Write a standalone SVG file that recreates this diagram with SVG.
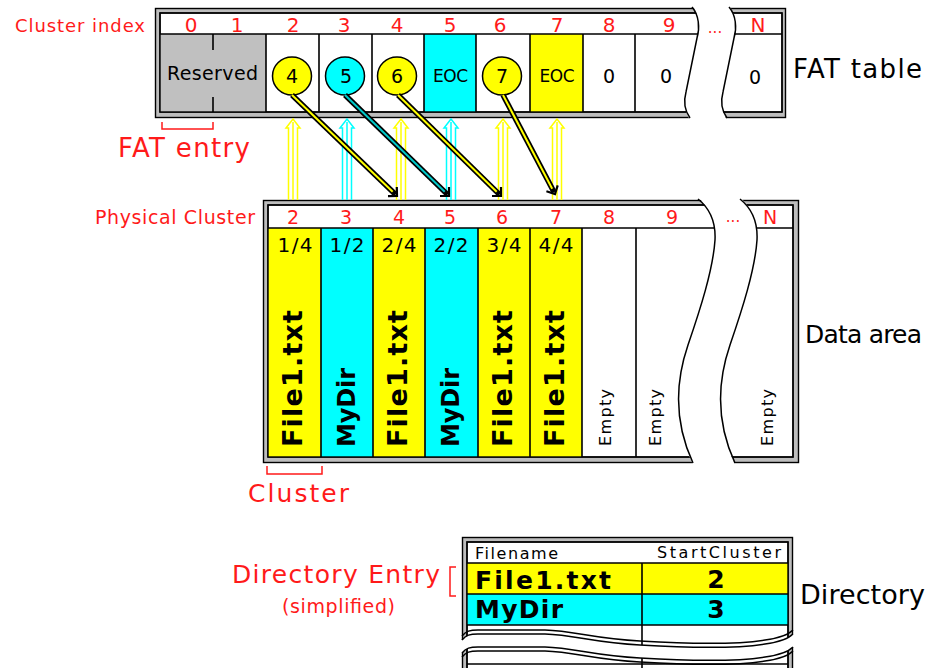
<svg xmlns="http://www.w3.org/2000/svg" width="933" height="668" viewBox="0 0 933 668">
  <style>
    text { font-family: "DejaVu Sans", "Liberation Sans", sans-serif; fill: #000; }
    text.red, .red text { fill: #ff1a1a; }
    .b { font-weight: bold; }
    .mid, .mid text { text-anchor: middle; }
    .frame-o { fill: #bdbdbd; stroke: #000; stroke-width: 1.4; }
    .frame-i { fill: #fff; stroke: #000; stroke-width: 1.4; }
    .edge { fill: none; stroke: #000; stroke-width: 1.4; }
    .ln { fill: none; stroke: #000; stroke-width: 1.6; }
    .brk { fill: none; stroke: #000; stroke-width: 1.5; }
    .gap { fill: #fff; stroke: none; }
    .y { fill: #ffff00; }
    .c { fill: #00ffff; }
    .bub { stroke: #000; stroke-width: 1.5; }
    .upY { fill: none; stroke: #ffff00; stroke-width: 1.5; }
    .upC { fill: none; stroke: #00ffff; stroke-width: 1.5; }
    .ptr { fill: none; stroke: #000; stroke-width: 5.5; }
    .coreY { fill: none; stroke: #ffff00; stroke-width: 2; }
    .coreC { fill: none; stroke: #00c8c8; stroke-width: 2; }
    .head { fill: none; stroke: #000; stroke-width: 2.2; stroke-linejoin: miter; }
    .brace { fill: none; stroke: #ff1a1a; stroke-width: 1.5; }
  </style>
  <defs>
    <!-- hollow upward arrow with a centre stroke -->
    <path id="uparrow" d="M-4.5,81 V9 H-7 L0,0 L7,9 H4.5 V81 M0,3 V81"/>
    <!-- torn edge of the FAT strip -->
    <path id="tearFat" d="M692,7 C699,15 700,28 697,38 L686,92 C683,103 685,111 690,118"/>
    <!-- torn edge of the data strip -->
    <path id="tearData" d="M698,199 C708,207 716,220 715,240 C713,270 700,310 688,345 C676,380 673,420 693,463"/>
    <!-- torn edge of the directory listing -->
    <path id="tearDir" d="M462,640 C466,635 470,634 478,634 L545,634 C575,635 595,643 640,645 C690,648 740,648 765,644 C780,642 788,639 793,634"/>
  </defs>

  <rect width="933" height="668" fill="#fff"/>

  <!-- FAT table -->
  <g id="fat-table">
    <rect class="frame-o" x="155.5" y="8.5" width="630" height="109"/>
    <rect class="frame-i" x="160" y="13" width="622" height="99"/>
    <rect fill="#c0c0c0" x="160" y="34" width="106" height="78"/>
    <rect class="c" x="424" y="34" width="52" height="78"/>
    <rect class="y" x="530" y="34" width="53" height="78"/>
    <path class="ln" d="M160,34 H782 M266,34 V112 M319,34 V112 M372,34 V112 M424,34 V112 M476,34 V112 M530,34 V112 M583,34 V112 M635,34 V112 M213,34 V50 M213,97 V112"/>
    <rect class="edge" x="160" y="13" width="622" height="99"/>
    <path class="gap" d="M692,5 C699,15 700,28 697,38 L686,92 C683,103 685,111 690,120 L727,120 C722,111 720,103 723,92 L734,38 C737,28 736,15 729,5 Z"/>
    <use href="#tearFat" class="brk"/>
    <use href="#tearFat" class="brk" transform="translate(37,0)"/>

    <g class="red mid" font-size="20">
      <text x="191" y="32">0</text>
      <text x="237" y="32">1</text>
      <text x="293" y="32">2</text>
      <text x="344" y="32">3</text>
      <text x="397" y="32">4</text>
      <text x="450" y="32">5</text>
      <text x="500" y="32">6</text>
      <text x="557" y="32">7</text>
      <text x="609" y="32">8</text>
      <text x="669" y="32">9</text>
      <text x="758" y="32">N</text>
    </g>
    <text class="red mid" x="715" y="33" font-size="15">...</text>

    <text x="167" y="80" font-size="19" textLength="91">Reserved</text>
    <ellipse class="y bub" cx="292" cy="76" rx="19.5" ry="19"/>
    <ellipse class="c bub" cx="345" cy="76" rx="19.5" ry="19"/>
    <ellipse class="y bub" cx="397" cy="76" rx="19.5" ry="19"/>
    <ellipse class="y bub" cx="502" cy="76" rx="19.5" ry="19"/>
    <g class="mid" font-size="19">
      <text x="292" y="83">4</text>
      <text x="346" y="83">5</text>
      <text x="397" y="83">6</text>
      <text x="502" y="83">7</text>
      <text x="609" y="83">0</text>
      <text x="666" y="83">0</text>
      <text x="755" y="84">0</text>
    </g>
    <text class="mid" x="450.5" y="82" font-size="17" textLength="35">EOC</text>
    <text class="mid" x="557" y="82" font-size="17" textLength="35">EOC</text>
  </g>

  <!-- Data area -->
  <g id="data-area">
    <rect class="frame-o" x="263.5" y="200.5" width="535" height="262"/>
    <rect class="frame-i" x="268" y="205" width="525" height="252"/>
    <rect class="y" x="268" y="228" width="53" height="229"/>
    <rect class="c" x="321" y="228" width="52" height="229"/>
    <rect class="y" x="373" y="228" width="52" height="229"/>
    <rect class="c" x="425" y="228" width="53" height="229"/>
    <rect class="y" x="478" y="228" width="52" height="229"/>
    <rect class="y" x="530" y="228" width="52" height="229"/>
    <path class="ln" d="M268,228 H793 M321,228 V457 M373,228 V457 M425,228 V457 M478,228 V457 M530,228 V457 M582,228 V457 M636,228 V457"/>
    <rect class="edge" x="268" y="205" width="525" height="252"/>
    <path class="gap" d="M698,197 C708,207 716,220 715,240 C713,270 700,310 688,345 C676,380 673,420 693,465 L735,465 C715,420 718,380 730,345 C742,310 755,270 757,240 C758,220 750,207 740,197 Z"/>
    <use href="#tearData" class="brk"/>
    <use href="#tearData" class="brk" transform="translate(42,0)"/>

    <g class="red mid" font-size="19">
      <text x="293" y="224">2</text>
      <text x="346" y="224">3</text>
      <text x="399" y="224">4</text>
      <text x="450" y="224">5</text>
      <text x="502" y="224">6</text>
      <text x="556" y="224">7</text>
      <text x="609" y="224">8</text>
      <text x="672" y="224">9</text>
      <text x="770" y="224">N</text>
    </g>
    <text class="red mid" x="733" y="222" font-size="15">...</text>

    <g class="mid" font-size="20">
      <text x="295" y="252" textLength="35">1/4</text>
      <text x="347" y="252" textLength="35">1/2</text>
      <text x="399" y="252" textLength="35">2/4</text>
      <text x="451" y="252" textLength="35">2/2</text>
      <text x="504" y="252" textLength="35">3/4</text>
      <text x="556" y="252" textLength="35">4/4</text>
    </g>

    <g class="b" font-size="27">
      <text transform="translate(302,447) rotate(-90)" textLength="137">File1.txt</text>
      <text transform="translate(407,447) rotate(-90)" textLength="137">File1.txt</text>
      <text transform="translate(512,447) rotate(-90)" textLength="137">File1.txt</text>
      <text transform="translate(564,447) rotate(-90)" textLength="137">File1.txt</text>
    </g>
    <g class="b" font-size="24">
      <text transform="translate(355,447) rotate(-90)" textLength="79">MyDir</text>
      <text transform="translate(459,447) rotate(-90)" textLength="79">MyDir</text>
    </g>
    <g font-size="16">
      <text transform="translate(611,446) rotate(-90)" textLength="57">Empty</text>
      <text transform="translate(661,446) rotate(-90)" textLength="57">Empty</text>
      <text transform="translate(773,446) rotate(-90)" textLength="57">Empty</text>
    </g>
  </g>

  <!-- Directory -->
  <g id="directory">
    <rect class="frame-o" x="462.5" y="537.5" width="330" height="150"/>
    <rect class="frame-i" x="467" y="542" width="321" height="140"/>
    <rect class="y" x="467" y="563" width="321" height="31"/>
    <rect class="c" x="467" y="594" width="321" height="31"/>
    <path class="ln" d="M467,563 H788 M467,594 H788 M467,625 H788 M642,563 V682 M467,664 H788"/>
    <rect class="edge" x="467" y="542" width="321" height="140"/>
    <path class="gap" d="M462,640 C466,635 470,634 478,634 L545,634 C575,635 595,643 640,645 C690,648 740,648 765,644 C780,642 788,639 793,634 L797,634 L797,647 L793,647 C788,652 780,655 765,657 C740,661 690,661 640,658 C595,656 575,648 545,647 L478,647 C470,647 466,648 462,653 L458,653 L458,640 Z"/>
    <use href="#tearDir" class="brk"/>
    <use href="#tearDir" class="brk" transform="translate(0,-4)"/>
    <use href="#tearDir" class="brk" transform="translate(0,13)"/>
    <use href="#tearDir" class="brk" transform="translate(0,17)"/>

    <text x="475" y="559" font-size="16" textLength="83">Filename</text>
    <text x="781" y="558" font-size="16" text-anchor="end" textLength="124">StartCluster</text>
    <text class="b" x="475" y="589" font-size="25" textLength="136">File1.txt</text>
    <text class="b" x="475" y="618" font-size="25" textLength="88">MyDir</text>
    <text class="b mid" x="716" y="588" font-size="25">2</text>
    <text class="b mid" x="716" y="618" font-size="25">3</text>
  </g>

  <!-- Pointers between the FAT and the data clusters -->
  <g id="connectors">
    <use href="#uparrow" class="upY" x="293" y="119"/>
    <use href="#uparrow" class="upC" x="347" y="119"/>
    <use href="#uparrow" class="upY" x="401" y="119"/>
    <use href="#uparrow" class="upC" x="451" y="119"/>
    <use href="#uparrow" class="upY" x="503" y="119"/>
    <use href="#uparrow" class="upY" x="557" y="119"/>

    <path class="ptr" d="M292,95 L395.6,194.6"/>
    <path class="coreY" d="M292,95 L392.7,191.8"/>
    <path class="head" d="M396.8,187 L397,196 L388,196.2"/>

    <path class="ptr" d="M345,95 L447.6,194.6"/>
    <path class="coreC" d="M345,95 L444.7,191.8"/>
    <path class="head" d="M449,187 L449,196 L440,196"/>

    <path class="ptr" d="M398,95 L499.6,194.6"/>
    <path class="coreY" d="M398,95 L496.7,191.8"/>
    <path class="head" d="M501,187 L501,196 L492,196"/>

    <path class="ptr" d="M503,95 L554.1,192.2"/>
    <path class="coreY" d="M503,95 L552.2,188.7"/>
    <path class="head" d="M557.7,185.4 L555,194 L546.4,191.3"/>
  </g>

  <!-- Annotations -->
  <g id="annotations">
    <text class="red" x="15" y="32" font-size="18" textLength="130">Cluster index</text>
    <text x="793" y="78" font-size="26" textLength="129">FAT table</text>
    <path class="brace" d="M162,122 V129 H213 V122"/>
    <text class="red" x="118" y="157" font-size="26" textLength="132">FAT entry</text>
    <text class="red" x="95" y="224" font-size="19" textLength="160">Physical Cluster</text>
    <text x="805" y="343" font-size="25" textLength="117">Data area</text>
    <path class="brace" d="M267,466 V474 H322 V466"/>
    <text class="red" x="248" y="502" font-size="25" textLength="101">Cluster</text>
    <text class="red" x="232" y="583" font-size="25" textLength="208">Directory Entry</text>
    <text class="red" x="282" y="613" font-size="19" textLength="113">(simplified)</text>
    <path class="brace" d="M456,567 H450 V596 H456"/>
    <text x="800" y="604" font-size="27" textLength="125">Directory</text>
  </g>
</svg>
